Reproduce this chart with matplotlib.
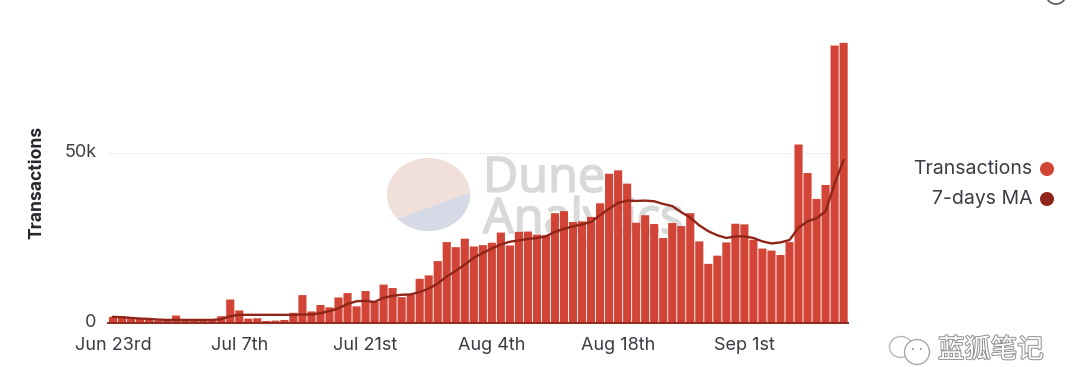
import numpy as np
import matplotlib
matplotlib.use("Agg")
import matplotlib.pyplot as plt
import matplotlib.patheffects as pe
from matplotlib.patches import Ellipse, Polygon, Circle
from matplotlib.transforms import ScaledTranslation

# daily transactions
transactions = [
    1800, 2000, 1600, 1200, 900, 700, 600, 2200, 900, 700, 600, 700, 2000, 6900,
    3700, 1300, 1400, 600, 700, 900, 3000, 8200, 3400, 5300, 4600, 7500, 8800, 4900,
    9400, 6200, 11300, 10300, 7600, 8300, 13000, 14000, 18200, 23800, 22300, 24800, 22500, 22900,
    23600, 26600, 22800, 26800, 26900, 26000, 25800, 32300, 32900, 29700, 29900, 31200, 35200, 43900,
    44900, 41000, 29500, 31700, 29100, 25000, 29400, 28500, 32300, 24000, 17400, 19800, 23700, 29200,
    29000, 24500, 21900, 21300, 20000, 23800, 52500, 44100, 36500, 40600, 81600, 82400,
]
moving_avg = [
    1800, 1700, 1500, 1300, 1200, 1000, 900, 900, 900, 900, 900, 900, 1100, 2000,
    2400, 2400, 2400, 2400, 2400, 2400, 2400, 2500, 2500, 2900, 3500, 4300, 5600, 6400,
    6500, 6200, 7400, 8000, 8300, 8400, 9100, 10100, 11600, 13700, 15300, 17200, 19200, 20600,
    21900, 23100, 23900, 24300, 24700, 25000, 25500, 26800, 27700, 28400, 29000, 29700, 31700, 33600,
    35300, 36000, 35900, 36000, 35800, 35000, 34400, 32600, 31000, 28700, 27000, 25800, 25000, 25500,
    25500, 25000, 24000, 23400, 23700, 24400, 28000, 29900, 30800, 32900, 41000, 47900,
]
tick_days = [0, 14, 28, 42, 56, 70]
tick_labels = ["Jun 23rd", "Jul 7th", "Jul 21st", "Aug 4th", "Aug 18th", "Sep 1st"]

W, H = 1080, 367
BAR = "#d24435"
LINE = "#8f2519"
TEXT = "#3a3d45"

plt.rcParams["font.family"] = ["Inter", "DejaVu Sans"]
fig = plt.figure(figsize=(W / 100, H / 100), dpi=100, facecolor="white")

# pixel overlay for watermark, legend and the cropped edges
bg = fig.add_axes([0, 0, 1, 1], zorder=0)
bg.set_xlim(0, W)
bg.set_ylim(H, 0)
bg.axis("off")

clip = Ellipse((428.5, 194.5), 83, 73, color="#f1e0da", lw=0)
bg.add_patch(clip)
lower = Polygon([(380, 225), (475, 191), (475, 240), (380, 240)], color="#d6dae7", lw=0)
bg.add_patch(lower)
lower.set_clip_path(clip)
# one text with two lines, tight like the reference watermark
bg.text(483, 233, "Dune\nAnalytics", fontsize=35, color="#d9d9d9", va="baseline", ha="left",
        linespacing=0.78, family="Open Sans",
        path_effects=[pe.withStroke(linewidth=1.2, foreground="#d9d9d9")])

# chart
ax = fig.add_axes([108 / W, 1 - 323 / H, 740 / W, 293 / H], zorder=1)
ax.patch.set_alpha(0)
days = np.arange(len(transactions))
# snapping off so every gap stays a soft pink line as in the reference
ax.bar(days, transactions, width=0.9, color=BAR, zorder=2, snap=False)
ax.plot(days, moving_avg, color=LINE, lw=1.7, zorder=3)
ax.set_xlim((108 - 113) / 9.02, (848 - 113) / 9.02)
ax.set_ylim(0, 293 / 3.4 * 1000)
ax.set_xticks(tick_days, tick_labels)
ax.set_yticks([0, 50000], ["0", "50k"])
ax.grid(axis="y", color="#efefef", lw=0.8, zorder=1)
ax.tick_params(length=0, labelsize=13, labelcolor=TEXT)
ax.tick_params(axis="x", pad=10)
ax.tick_params(axis="y", pad=8.5)
for lab in ax.get_yticklabels():
    lab.set_transform(lab.get_transform() + ScaledTranslation(0, 2.5 / 100, fig.dpi_scale_trans))
for s in ["top", "right", "left"]:
    ax.spines[s].set_visible(False)
ax.spines["bottom"].set_color("#8f2a20")
ax.spines["bottom"].set_linewidth(1.4)
ax.set_axisbelow(True)
fig.text(37 / W, 1 - 182 / H, "Transactions", rotation=90, fontsize=12.6, fontweight="bold",
         color="#25272c", ha="center", va="center")

# legend
fg = fig.add_axes([0, 0, 1, 1], zorder=2)
fg.set_xlim(0, W)
fg.set_ylim(H, 0)
fg.axis("off")
fg.text(1032, 169, "Transactions", fontsize=14, color=TEXT, ha="right", va="center")
fg.text(1032, 199, "7-days MA", fontsize=14, color=TEXT, ha="right", va="center")
fg.add_patch(Ellipse((1047, 169), 14, 14, color=BAR, lw=0))
fg.add_patch(Ellipse((1047, 199), 14, 14, color=LINE, lw=0))

# cropped info icon at the top right
fg.add_patch(Circle((1056, -6), 10, fill=False, ec="#55585e", lw=1.2))

# wechat mark
fg.add_patch(Ellipse((901, 347), 23, 21, fill=False, ec="#b8b8b8", lw=1.0))
fg.add_patch(Ellipse((917, 352), 25, 25, fc="white", ec="#a8a8a8", lw=1.0))
fg.add_patch(Ellipse((913, 349), 2, 2, color="#9a9a9a", lw=0))
fg.add_patch(Ellipse((921, 349), 2, 2, color="#9a9a9a", lw=0))
fg.text(938, 350, "蓝狐笔记", fontsize=19, color="white", ha="left", va="center",
        family=["Noto Sans CJK SC", "DejaVu Sans"],
        path_effects=[pe.withStroke(linewidth=1.4, foreground="#8d8d8d")])

fig.savefig("out.png", dpi=100)
